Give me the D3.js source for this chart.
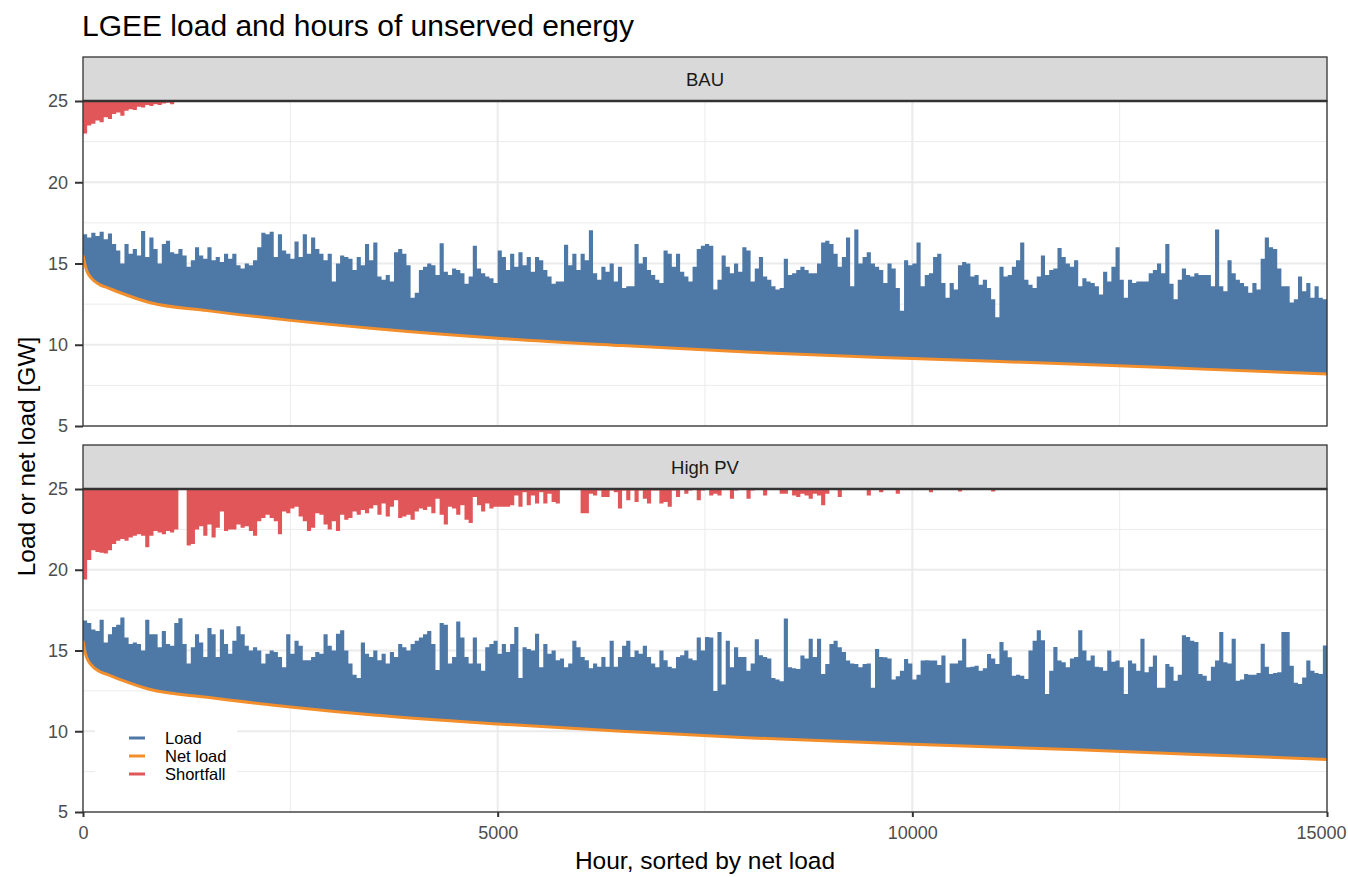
<!DOCTYPE html>
<html><head><meta charset="utf-8">
<script src="https://cdn.jsdelivr.net/npm/d3@7"></script>
<style>
html,body{margin:0;padding:0;background:#fff;overflow:hidden;}
svg{display:block;font-family:"Liberation Sans",Arial,Helvetica,sans-serif;}
</style></head><body>
<svg id="chart" width="1348" height="877"></svg>
<script>
// ---------------- data ----------------
const title = "LGEE load and hours of unserved energy";
const xTitle = "Hour, sorted by net load";
const yTitle = "Load or net load [GW]";
const scenarios = ["BAU", "High PV"];
const stepHours = 50;           // each value below covers 50 sorted hours
const hourDomain = [0, 15000];
const loadDomain = [5, 25];
const xTicks = [0, 5000, 10000, 15000];
const xMinor = [2500, 7500, 12500];
const yTicks = [5, 10, 15, 20, 25];
const yMinor = [7.5, 12.5, 17.5, 22.5];
const legendLabels = ["Load", "Net load", "Shortfall"];
const seriesColors = ["#4e79a7", "#f28e2b", "#e15759"];

const loadBAU = [
16.8,16.6,16.9,16.7,16.95,16.5,16.85,16.2,15.8,15.0,
16.2,15.6,15.9,15.5,17.0,15.4,16.6,15.9,15.0,16.2,
16.4,15.7,15.6,15.9,15.5,14.8,15.2,16.0,15.5,15.3,
16.0,15.2,15.4,15.1,15.6,15.3,15.6,14.9,14.7,15.0,
14.9,15.2,16.0,16.9,16.8,16.95,15.4,16.8,15.8,15.6,
15.3,16.35,15.4,16.8,15.6,16.6,15.9,15.6,15.2,15.6,
13.9,15.0,15.5,15.4,15.3,14.6,15.4,14.9,16.2,15.2,
16.3,14.2,14.0,14.3,13.9,15.7,15.9,15.6,14.9,12.9,
13.2,14.6,14.8,15.0,14.9,14.3,16.25,14.5,14.3,14.7,
14.6,14.4,13.75,14.2,16.1,14.7,14.4,14.2,14.1,13.8,
15.8,15.4,14.6,15.6,14.8,15.7,14.9,15.4,14.5,15.4,
15.2,14.6,14.2,13.75,13.9,13.9,16.15,14.9,15.6,14.6,
15.6,15.2,17.05,14.4,14.0,14.8,14.5,15.0,13.9,14.8,
13.5,13.6,13.6,16.2,15.0,15.4,14.6,14.3,14.0,13.8,
15.8,15.6,14.8,15.6,14.5,14.2,13.9,14.8,15.9,16.1,
16.2,16.1,13.4,14.0,15.5,14.8,14.4,15.0,14.5,16.0,
15.8,13.9,14.7,15.4,14.2,14.0,13.6,13.4,13.5,15.3,
14.3,14.4,14.6,14.8,14.6,14.4,14.4,15.0,16.3,16.4,
16.2,15.6,14.8,15.4,16.6,13.6,17.1,15.0,15.4,15.7,
15.0,14.8,14.6,13.8,15.0,14.7,13.5,12.1,15.2,14.9,
15.0,16.3,13.6,14.3,14.4,15.4,15.6,13.8,12.9,13.8,
13.4,14.9,15.1,15.0,14.2,14.3,13.7,14.0,13.5,12.8,
11.7,14.8,14.2,14.3,14.8,15.2,16.3,14.0,13.7,13.5,
14.2,15.5,14.3,14.6,14.7,15.95,15.4,15.0,14.8,15.2,
13.6,14.1,13.9,13.8,13.6,13.1,14.5,13.9,14.8,16.0,
14.0,12.9,14.0,13.8,13.9,13.9,13.9,14.4,14.6,15.0,
14.4,16.2,13.75,12.8,14.0,14.7,14.3,14.2,14.4,14.3,
14.3,14.3,13.6,17.1,13.6,13.3,15.2,14.4,14.0,13.8,
13.6,13.2,13.8,13.4,15.3,16.6,16.0,15.9,14.7,13.6,
13.6,12.6,12.8,14.2,13.3,13.8,12.9,13.6,12.9,12.8
];

const loadHighPV = [
16.85,16.7,16.3,16.2,16.9,15.5,16.0,16.45,16.6,17.05,
15.8,15.4,15.5,15.4,15.0,16.9,16.0,16.0,15.2,16.2,
15.4,15.3,16.7,17.0,15.4,14.2,15.2,16.0,15.5,14.6,
16.4,16.0,14.6,16.3,15.4,14.8,15.6,16.5,16.0,15.3,
15.0,15.2,15.0,14.2,14.8,15.0,14.9,14.6,13.96,16.0,
14.8,15.6,15.3,14.4,14.4,14.6,14.9,14.8,16.0,15.3,
15.0,16.04,16.25,15.0,14.2,13.5,13.3,15.5,14.8,14.6,
15.0,14.4,14.8,14.2,14.9,14.6,15.4,15.2,15.0,15.4,
15.6,15.8,16.0,16.2,15.4,13.8,16.7,16.6,14.2,14.6,
16.8,15.8,14.6,14.2,15.8,14.2,13.75,15.2,15.4,15.6,
14.8,15.4,14.9,15.4,16.46,13.3,15.2,15.1,15.0,16.04,
13.96,15.4,14.8,15.0,14.4,14.5,13.96,14.2,15.6,15.2,
14.6,14.4,13.9,14.2,14.0,14.6,14.0,15.6,14.0,14.6,
15.3,15.6,14.6,15.0,14.8,15.3,14.6,14.2,13.96,15.0,
14.4,14.0,13.9,14.6,14.7,15.0,14.5,14.4,15.8,15.0,
15.83,15.8,12.5,16.15,12.9,15.6,13.96,15.2,14.6,14.6,
13.75,14.2,15.7,14.7,14.6,14.5,13.3,13.2,13.1,16.98,
13.96,13.9,13.85,14.69,14.5,15.73,14.6,15.73,13.54,14.17,
15.4,15.6,15.2,14.9,14.38,14.2,14.17,13.96,14.17,14.2,
12.7,15.1,14.6,14.58,14.5,13.2,13.4,13.75,14.48,14.2,
13.2,13.5,14.38,14.4,14.38,14.38,14.1,14.69,13.0,14.2,
14.2,14.38,15.73,13.96,14.0,14.06,13.75,13.9,14.79,14.5,
14.17,15.52,15.0,14.58,13.44,13.5,13.44,13.23,15.0,15.6,
16.25,15.63,12.3,13.75,15.21,14.38,14.27,13.96,14.5,14.6,
16.25,15.0,14.38,14.69,14.0,13.96,13.75,15.0,14.3,14.38,
13.96,12.3,14.38,14.2,13.75,15.73,13.65,14.0,14.69,12.7,
12.7,14.17,14.0,13.13,13.5,15.94,15.83,15.6,15.52,13.54,
13.44,13.13,14.0,14.38,16.15,14.27,14.2,15.73,13.13,13.2,
13.54,13.5,13.5,13.6,15.42,14.0,13.54,13.6,13.65,16.15,
16.15,14.06,13.0,12.92,13.33,14.38,13.75,13.6,13.54,15.31
];

// net load (smooth duration curve), read at these hours
const netLoadHours = [0,25,50,100,200,300,450,800,1500,2500,3500,5000,6500,8000,10000,12000,13500,15000];
const netLoadBAU    = [15.5,14.9,14.5,14.1,13.7,13.5,13.2,12.6,12.1,11.5,11.0,10.4,9.95,9.55,9.15,8.8,8.5,8.2];
const netLoadHighPV = [15.6,14.9,14.5,14.1,13.7,13.5,13.2,12.6,12.1,11.5,11.0,10.45,10.0,9.6,9.2,8.85,8.55,8.25];

// shortfall [GW], drawn downward from the 25 GW line, 50-hour steps from hour 0
const shortfallBAU = [
2.0,1.5,1.4,1.2,1.3,1.0,1.1,0.8,0.7,0.9,
0.6,0.5,0.55,0.35,0.4,0.25,0.3,0.2,0.25,0.15,
0.1,0.2
];
const shortfallHighPV = [
5.6,4.4,3.8,3.9,3.95,4.0,3.8,3.4,3.2,3.1,3.2,3.0,2.9,2.8,2.9,3.6,2.9,2.6,2.7,2.8,
2.6,2.7,2.5,0,0,3.5,3.4,2.5,2.3,2.9,2.2,3.0,2.4,1.4,2.6,2.5,2.5,2.2,2.4,2.3,
2.6,2.9,2.0,1.8,1.6,1.8,2.0,2.8,1.4,1.5,1.2,1.1,1.7,2.0,2.6,2.4,1.5,1.6,2.2,2.5,
2.0,2.6,1.6,1.9,1.8,1.4,1.6,1.3,1.5,1.2,1.0,1.6,0.9,1.7,1.1,0.7,1.8,1.7,1.6,1.9,
1.4,1.2,1.3,1.1,1.5,0.6,1.6,2.2,1.1,1.2,1.6,1.0,1.9,2.1,0.5,1.0,1.4,0.9,1.2,1.1,
1.1,1.1,1.1,1.0,0.4,1.1,0.2,1.0,0.4,0.9,0.2,0.9,0.3,0.8,0.9,0,0,0,0,0,
1.5,1.5,0.3,0.4,0.1,0.5,0.5,0.1,0.2,1.2,0.1,0.7,0.1,0.8,0.1,0.6,0.9,0.1,0.1,0.9,
0.8,1.1,0.1,0.5,0,0.3,0.1,0,0.7,0.1,0,0.4,0.3,0.4,0,0,0.6,0.1,0,0,
0.6,0.1,0,0,0.4,0,0,0,0.3,0.3,0,0.4,0.5,0.3,0.4,0.6,0.3,0.4,1.0,0.3,
0,0,0.5,0,0,0,0,0,0,0.4,0,0,0.2,0,0,0,0.3,0,0,0,
0,0,0,0,0.2,0,0,0,0,0,0,0.15,0,0,0,0,0,0,0,0.15
];
const shortfallCeiling = 25;

// ---------------- layout ----------------
const W = 1348, H = 877;
const plotLeft = 83, plotRight = 1327;
const stripH = 44;
const panels = [
  {name: scenarios[0], top: 101, bottom: 426, load: loadBAU, net: netLoadBAU, short: shortfallBAU},
  {name: scenarios[1], top: 489, bottom: 812, load: loadHighPV, net: netLoadHighPV, short: shortfallHighPV}
];
const gridCol = "#ebebeb", axisCol = "#333333", tickTextCol = "#4d4d4d";

const svg = d3.select("#chart");
const x = d3.scaleLinear().domain(hourDomain).range([plotLeft, plotRight]);

svg.append("text").attr("x", plotLeft - 1).attr("y", 36)
  .attr("font-size", 30).attr("fill", "#000").text(title);

function stepData(values) {
  const d = values.map((v, i) => ({h: i * stepHours, v}));
  d.push({h: values.length * stepHours, v: values[values.length - 1]});
  return d;
}

panels.forEach((p, pi) => {
  const y = d3.scaleLinear().domain(loadDomain).range([p.bottom, p.top]);
  const g = svg.append("g");
  const clipId = "clip" + pi, aboveId = "above" + pi;
  const defs = svg.append("defs");
  defs.append("clipPath").attr("id", clipId).append("rect")
    .attr("x", plotLeft).attr("y", p.top).attr("width", plotRight - plotLeft).attr("height", p.bottom - p.top);
  const netPts = netLoadHours.map((h, i) => ({h, v: p.net[i]}));
  const aboveArea = d3.area().x(d => x(d.h)).y0(y(loadDomain[1])).y1(d => y(d.v)).curve(d3.curveMonotoneX);
  defs.append("clipPath").attr("id", aboveId).append("path").attr("d", aboveArea(netPts));

  // grid
  g.selectAll(".ymin").data(yMinor).join("line")
    .attr("x1", plotLeft).attr("x2", plotRight).attr("y1", d => y(d)).attr("y2", d => y(d))
    .attr("stroke", gridCol).attr("stroke-width", 1);
  g.selectAll(".xmin").data(xMinor).join("line")
    .attr("y1", p.top).attr("y2", p.bottom).attr("x1", d => x(d)).attr("x2", d => x(d))
    .attr("stroke", gridCol).attr("stroke-width", 1);
  g.selectAll(".ymaj").data(yTicks).join("line")
    .attr("x1", plotLeft).attr("x2", plotRight).attr("y1", d => y(d)).attr("y2", d => y(d))
    .attr("stroke", gridCol).attr("stroke-width", 2);
  g.selectAll(".xmaj").data(xTicks).join("line")
    .attr("y1", p.top).attr("y2", p.bottom).attr("x1", d => x(d)).attr("x2", d => x(d))
    .attr("stroke", gridCol).attr("stroke-width", 2);

  const inner = g.append("g").attr("clip-path", `url(#${clipId})`);
  // load (between net load and load)
  const loadArea = d3.area().x(d => x(d.h)).y0(y(loadDomain[0])).y1(d => y(d.v)).curve(d3.curveStepAfter);
  inner.append("g").attr("clip-path", `url(#${aboveId})`)
    .append("path").attr("d", loadArea(stepData(p.load))).attr("fill", seriesColors[0]);
  // shortfall
  const shortArea = d3.area().x(d => x(d.h)).y0(y(shortfallCeiling)).y1(d => y(shortfallCeiling - d.v)).curve(d3.curveStepAfter);
  const sd = p.short.map((v, i) => ({h: i * stepHours, v}));
  sd.push({h: p.short.length * stepHours, v: 0});
  inner.append("path").attr("d", shortArea(sd)).attr("fill", seriesColors[2]);
  // net load
  const netLine = d3.line().x(d => x(d.h)).y(d => y(d.v)).curve(d3.curveMonotoneX);
  inner.append("path").attr("d", netLine(netPts)).attr("fill", "none")
    .attr("stroke", seriesColors[1]).attr("stroke-width", 3);

  // panel border
  g.append("rect").attr("x", plotLeft).attr("y", p.top).attr("width", plotRight - plotLeft)
    .attr("height", p.bottom - p.top).attr("fill", "none").attr("stroke", axisCol).attr("stroke-width", 1.3);
  // strip
  g.append("rect").attr("x", plotLeft).attr("y", p.top - stripH).attr("width", plotRight - plotLeft)
    .attr("height", stripH).attr("fill", "#d9d9d9").attr("stroke", axisCol).attr("stroke-width", 1.3);
  g.append("line").attr("x1", plotLeft).attr("x2", plotRight).attr("y1", p.top).attr("y2", p.top)
    .attr("stroke", axisCol).attr("stroke-width", 2.5);
  g.append("text").attr("x", (plotLeft + plotRight) / 2).attr("y", p.top - stripH / 2 + 6.5)
    .attr("text-anchor", "middle").attr("font-size", 18.5).attr("fill", "#1a1a1a").text(p.name);

  // y axis
  const ya = g.append("g").attr("transform", `translate(${plotLeft},0)`)
    .call(d3.axisLeft(y).tickValues(yTicks).tickSize(8).tickPadding(7).tickFormat(d3.format("d")));
  ya.select(".domain").remove();
  ya.selectAll(".tick line").attr("stroke", axisCol).attr("stroke-width", 2);
  ya.selectAll(".tick text").attr("font-size", 18).attr("fill", tickTextCol).attr("font-family", null);

  if (pi === panels.length - 1) {
    const xa = g.append("g").attr("transform", `translate(0,${p.bottom})`)
      .call(d3.axisBottom(x).tickValues(xTicks).tickSize(5).tickPadding(9).tickFormat(d3.format("d")));
    xa.select(".domain").remove();
    xa.selectAll(".tick line").attr("stroke", axisCol).attr("stroke-width", 2);
    xa.selectAll(".tick text").attr("font-size", 18).attr("fill", tickTextCol).attr("font-family", null);
    // keep the last label inside the picture
    xa.selectAll(".tick text").filter(d => d === hourDomain[1])
      .attr("text-anchor", "end").attr("x", W - 2 - x(hourDomain[1]));

    // legend
    const lg = g.append("g").attr("transform", "translate(95,724)");
    lg.append("rect").attr("width", 142).attr("height", 64).attr("fill", "#fff");
    legendLabels.forEach((lab, i) => {
      const yy = 14 + i * 18;
      lg.append("line").attr("x1", 34).attr("x2", 50).attr("y1", yy).attr("y2", yy)
        .attr("stroke", seriesColors[i]).attr("stroke-width", 3);
      lg.append("text").attr("x", 70).attr("y", yy + 6).attr("font-size", 16.5).attr("fill", "#000").text(lab);
    });
  }
});

svg.append("text").attr("x", (plotLeft + plotRight) / 2).attr("y", 869)
  .attr("text-anchor", "middle").attr("font-size", 24.5).attr("fill", "#000").text(xTitle);
svg.append("text").attr("transform", `translate(35,${(101 + 812) / 2}) rotate(-90)`)
  .attr("text-anchor", "middle").attr("font-size", 24.5).attr("fill", "#000").text(yTitle);
</script>
</body></html>
